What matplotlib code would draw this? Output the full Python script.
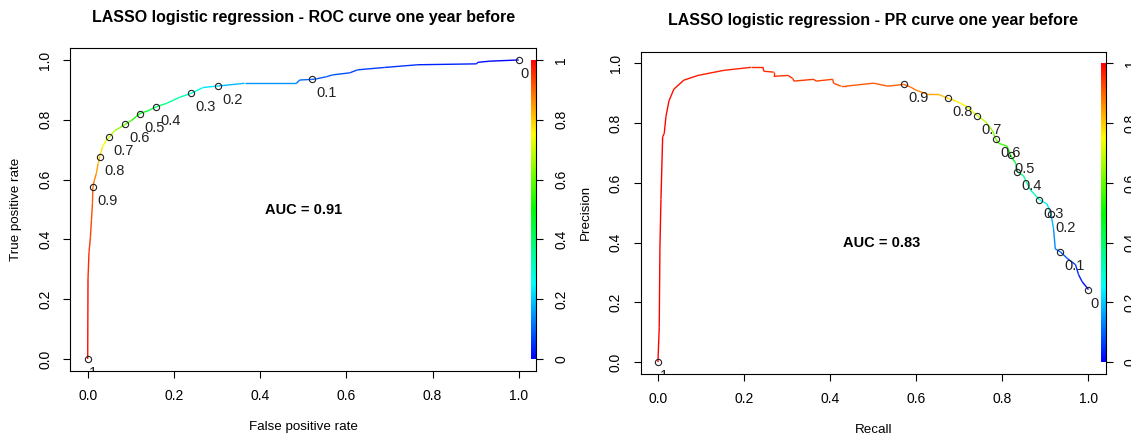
import numpy as np
import matplotlib
matplotlib.use("Agg")
import matplotlib.pyplot as plt
from matplotlib.collections import LineCollection
from matplotlib.colors import ListedColormap, hsv_to_rgb
from matplotlib.transforms import offset_copy

plt.rcParams['font.family'] = ['Liberation Sans', 'DejaVu Sans']

# ROC curve: false positive rate, true positive rate, cutoff at each vertex
roc_fpr = [0.0, 0.0007, 0.003, 0.0063, 0.0086, 0.011, 0.012, 0.015, 0.020, 0.024,
           0.028, 0.034, 0.042, 0.049, 0.063, 0.074, 0.087, 0.101, 0.121, 0.140,
           0.158, 0.183, 0.213, 0.239, 0.268, 0.303, 0.364, 0.484, 0.492, 0.520,
           0.531, 0.554, 0.568, 0.608, 0.626, 0.689, 0.766, 0.902, 0.905, 0.933, 1.0]
roc_tpr = [0.0, 0.268, 0.357, 0.407, 0.463, 0.519, 0.574, 0.596, 0.620, 0.653,
           0.676, 0.708, 0.730, 0.741, 0.764, 0.773, 0.785, 0.797, 0.821, 0.830,
           0.843, 0.855, 0.875, 0.888, 0.908, 0.913, 0.922, 0.922, 0.933, 0.935,
           0.937, 0.944, 0.950, 0.957, 0.967, 0.975, 0.984, 0.987, 0.992, 0.996, 1.0]
roc_cut = [1.0, 0.97, 0.95, 0.94, 0.93, 0.915, 0.9, 0.88, 0.86, 0.82,
           0.8, 0.76, 0.72, 0.7, 0.66, 0.63, 0.6, 0.56, 0.5, 0.45,
           0.4, 0.37, 0.33, 0.3, 0.25, 0.2, 0.17, 0.12, 0.11, 0.1,
           0.095, 0.09, 0.085, 0.075, 0.07, 0.06, 0.045, 0.02, 0.015, 0.01, 0.0]

# PR curve: recall, precision, cutoff at each vertex
pr_rec = [0.0, 0.003, 0.0046, 0.007, 0.011, 0.0146, 0.0186, 0.0255, 0.037, 0.060,
          0.093, 0.153, 0.216, 0.244, 0.246, 0.269, 0.269, 0.302, 0.313, 0.316,
          0.362, 0.367, 0.406, 0.408, 0.425, 0.436, 0.501, 0.534, 0.571, 0.587,
          0.599, 0.626, 0.650, 0.661, 0.674, 0.691, 0.719, 0.731, 0.742, 0.761,
          0.777, 0.785, 0.791, 0.811, 0.819, 0.823, 0.831, 0.835, 0.849, 0.865,
          0.886, 0.904, 0.913, 0.919, 0.923, 0.935, 0.951, 0.970, 0.977, 0.985, 1.0]
pr_prec = [0.0, 0.115, 0.379, 0.544, 0.755, 0.765, 0.822, 0.874, 0.914, 0.944,
           0.960, 0.977, 0.987, 0.987, 0.974, 0.971, 0.957, 0.960, 0.950, 0.941,
           0.947, 0.941, 0.947, 0.934, 0.924, 0.924, 0.934, 0.924, 0.930, 0.921,
           0.911, 0.897, 0.897, 0.891, 0.883, 0.875, 0.855, 0.838, 0.825, 0.805,
           0.775, 0.746, 0.733, 0.723, 0.693, 0.683, 0.666, 0.637, 0.624, 0.577,
           0.544, 0.529, 0.496, 0.445, 0.379, 0.369, 0.347, 0.326, 0.293, 0.270, 0.243]
pr_cut = [1.0, 0.999, 0.998, 0.997, 0.996, 0.995, 0.993, 0.99, 0.985, 0.98,
          0.975, 0.97, 0.965, 0.96, 0.958, 0.955, 0.953, 0.95, 0.945, 0.943,
          0.94, 0.935, 0.93, 0.925, 0.92, 0.915, 0.91, 0.905, 0.9, 0.89,
          0.88, 0.85, 0.82, 0.81, 0.8, 0.77, 0.74, 0.72, 0.7, 0.67,
          0.63, 0.6, 0.58, 0.54, 0.5, 0.47, 0.43, 0.4, 0.37, 0.33,
          0.3, 0.25, 0.2, 0.16, 0.12, 0.1, 0.08, 0.05, 0.04, 0.02, 0.0]

# cutoffs printed on the curves
label_cuts = [1.0, 0.9, 0.8, 0.7, 0.6, 0.5, 0.4, 0.3, 0.2, 0.1, 0.0]
label_text = ['1', '0.9', '0.8', '0.7', '0.6', '0.5', '0.4', '0.3', '0.2', '0.1', '0']

ticks = [0.0, 0.2, 0.4, 0.6, 0.8, 1.0]
tick_text = ['0.0', '0.2', '0.4', '0.6', '0.8', '1.0']
cbar_text = ['0', '0.2', '0.4', '0.6', '0.8', '1']

# rev(rainbow(256, start=0, end=4/6)) like ROCR colorize
hues = np.linspace(4 / 6, 0, 256)
cmap = ListedColormap(hsv_to_rgb(np.column_stack([hues, np.ones(256), np.ones(256)])))


def panel(fig, ax, x, y, cut, title, xlab, ylab, auc, auc_xy):
    x = np.array(x)
    y = np.array(y)
    cut = np.array(cut)
    pts = np.column_stack([x, y])
    segs = np.stack([pts[:-1], pts[1:]], axis=1)
    seg_c = (cut[:-1] + cut[1:]) / 2
    ax.add_collection(LineCollection(segs, colors=cmap(seg_c), linewidths=1.0))

    idx = [list(cut).index(c) for c in label_cuts]
    ax.plot(x[idx], y[idx], 'o', mfc='none', mec='#222222', ms=4.5, mew=0.8, zorder=3)
    for i, t in zip(idx, label_text):
        # text sits a quarter of its width to the right, below the point
        dx = 1.5 if len(t) == 1 else 4.3
        tr = offset_copy(ax.transData, fig=fig, x=dx, y=-7, units='dots')
        ax.text(x[i], y[i], t, transform=tr, ha='left', va='top', fontsize=10.5,
                color='#222222', clip_on=True, zorder=4)

    ax.text(auc_xy[0], auc_xy[1], auc, ha='center', va='center',
            fontsize=10.5, fontweight='bold')

    ax.set_xlim(-0.04, 1.04)
    ax.set_ylim(-0.04, 1.04)
    ax.set_xticks(ticks)
    ax.set_xticklabels(tick_text)
    ax.set_yticks(ticks)
    ax.set_yticklabels(tick_text, rotation=90, va='center')
    ax.tick_params(direction='out', length=5, width=0.8, labelsize=10, pad=8)
    for s in ax.spines.values():
        s.set_linewidth(0.8)
    ax.set_title(title, fontsize=11.5, fontweight='bold', pad=19)
    ax.set_xlabel(xlab, fontsize=9.6)
    ax.set_ylabel(ylab, fontsize=9.6)
    ax.xaxis.set_label_coords(0.5, -0.155)
    ax.yaxis.set_label_coords(-0.104, 0.5)

    # colour key drawn inside the right border
    cax = ax.inset_axes([0.989, 0.0, 0.011, 1.0], transform=ax.get_yaxis_transform())
    cax.imshow(np.linspace(0, 1, 256)[:, None], aspect='auto', cmap=cmap,
               origin='lower', extent=[0, 1, 0, 1])
    cax.set_xlim(0, 1)
    cax.set_ylim(0, 1)
    cax.set_xticks([])
    cax.yaxis.tick_right()
    cax.set_yticks(ticks)
    cax.set_yticklabels(cbar_text, rotation=90, va='center')
    cax.tick_params(direction='out', length=5, width=0.8, labelsize=10, pad=8)
    for s in cax.spines.values():
        s.set_visible(False)
    cax.set_zorder(1)


fig = plt.figure(figsize=(11.31, 4.42), dpi=100)
ax1 = fig.add_axes([0.0623, 0.1606, 0.4116, 0.7308])
ax2 = fig.add_axes([0.5665, 0.1538, 0.4111, 0.7296])

panel(fig, ax1, roc_fpr, roc_tpr, roc_cut,
      'LASSO logistic regression - ROC curve one year before',
      'False positive rate', 'True positive rate', 'AUC = 0.91', (0.5, 0.5))
panel(fig, ax2, pr_rec, pr_prec, pr_cut,
      'LASSO logistic regression - PR curve one year before',
      'Recall', 'Precision', 'AUC = 0.83', (0.52, 0.4))

fig.savefig('out.png', dpi=100)
